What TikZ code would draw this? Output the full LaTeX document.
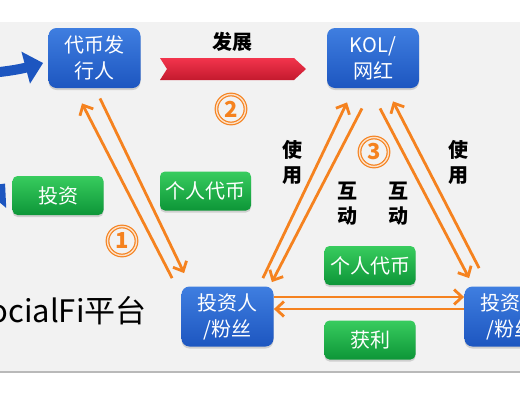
\documentclass[tikz,border=0pt]{standalone}
\usepackage{fontspec}
\setmainfont{Noto Sans CJK SC}
\usetikzlibrary{arrows.meta,shadows}
\definecolor{ora}{HTML}{F5821F}
\definecolor{bluetop}{HTML}{3F7EE0}
\definecolor{bluebot}{HTML}{1D56C0}
\definecolor{greentop}{HTML}{38CC5E}
\definecolor{greenbot}{HTML}{0D9638}
\definecolor{bannertop}{HTML}{F2344C}
\definecolor{bannerbot}{HTML}{C41A2E}
\definecolor{panel}{HTML}{F2F2F2}

\begin{document}
\begin{tikzpicture}[x=1pt,y=-1pt,line width=.8pt,
  role/.style={rounded corners=8pt,top color=bluetop,bottom color=bluebot,text=white,align=center,
    minimum width=92pt,minimum height=60pt,inner sep=0pt,font=\fontsize{20}{26}\selectfont,
    drop shadow={shadow xshift=0pt,shadow yshift=-2pt,opacity=.3}},
  tag/.style={rounded corners=5pt,top color=greentop,bottom color=greenbot,text=white,
    minimum width=91pt,minimum height=39pt,inner sep=0pt,font=\fontsize{20}{24}\selectfont,
    drop shadow={shadow xshift=0pt,shadow yshift=-2pt,opacity=.3}},
  word/.style={font=\fontsize{20}{25}\selectfont\bfseries,align=center,inner sep=0pt},
  num/.style={circle,draw=ora,double=ora!25,double distance=1.4pt,line width=1.2pt,minimum size=29pt,
    inner sep=0pt,text=ora,font=\fontsize{22}{22}\selectfont\bfseries},
  flow/.style={ora,line width=2.8pt,-{Straight Barb[length=8pt,width=15pt]}}]
\useasboundingbox (0,0) rectangle (520,400);
\clip (0,0) rectangle (520,400);
% platform panel
\fill[gray!55] (0,24) rectangle (540,373); \fill[panel] (0,22) rectangle (540,371);
\node[anchor=east,font=\fontsize{31}{31}\selectfont,inner sep=0pt] (plat) at (147,311) {SocialFi平台};

\node[role] (issuer) at (94.5,58) {代币发\\行人};
\node[role] (kol) at (373,58) {KOL/\\网红};
\node[role] (fan) at (227.5,316.5) {投资人\\/粉丝};
\node[role] (fan2) at (510.5,316.5) {投资人\\/粉丝};
\node[tag] (invest) at (58,195.5) {投资};
\node[tag] (token) at (205.5,191) {个人代币};
\node[tag] (token2) at (370,265.5) {个人代币};
\node[tag] (profit) at (370,340) {获利};

% feeds from the left
\coordinate (src) at (-20,74); \coordinate (src2) at (-40,226);
\draw[bluebot,line width=10pt,-{Triangle[length=18pt,width=32pt]}] (src) to[out=5,in=195] ([shift={(-5,5)}]issuer.west);
\draw[bluebot,line width=10pt,-{Triangle[length=18pt,width=32pt]}] (src2) to[out=30,in=230] ([shift={(-7,-12)}]invest.west);

% develop banner
\shade[top color=bannertop,bottom color=bannerbot] (160,58) -- (294,58) -- (306,69) -- (294,80) -- (160,80) -- (167,69) -- cycle;
\node[word] (grow) at (232,42) {发展};

% flows
\draw[flow] ([shift={(-9,-8)}]fan.north west) -- ([shift={(-12.5,15)}]issuer.south);
\draw[flow] ([shift={(5.5,10)}]issuer.south) -- ([shift={(3,-13)}]fan.north west);
\draw[flow] ([shift={(-11,-8)}]fan.north east) -- ([shift={(-26,14)}]kol.south);
\draw[flow] ([shift={(-11,20)}]kol.south) -- ([shift={(-2,-4)}]fan.north east);
\draw[flow] ([shift={(7,20)}]kol.south) -- ([shift={(5,-8)}]fan2.north west);
\draw[flow] ([shift={(15,-18)}]fan2.north west) -- ([shift={(20,13)}]kol.south);
\draw[flow] ([shift={(0,-19.5)}]fan.east) -- ([shift={(0,-19.5)}]fan2.west);
\draw[flow] ([shift={(0,-7.5)}]fan2.west) -- ([shift={(0,-7.5)}]fan.east);

\node[num] (one) at (122,241) {1}; \node[num] (two) at (231,109) {2}; \node[num] (three) at (374,152) {3};
\node[word] (use) at (292,162) {使\\用}; \node[word] (use2) at (458,162) {使\\用};
\node[word] (act) at (347,204) {互\\动}; \node[word] (act2) at (398,204) {互\\动};
\end{tikzpicture}
\end{document}
